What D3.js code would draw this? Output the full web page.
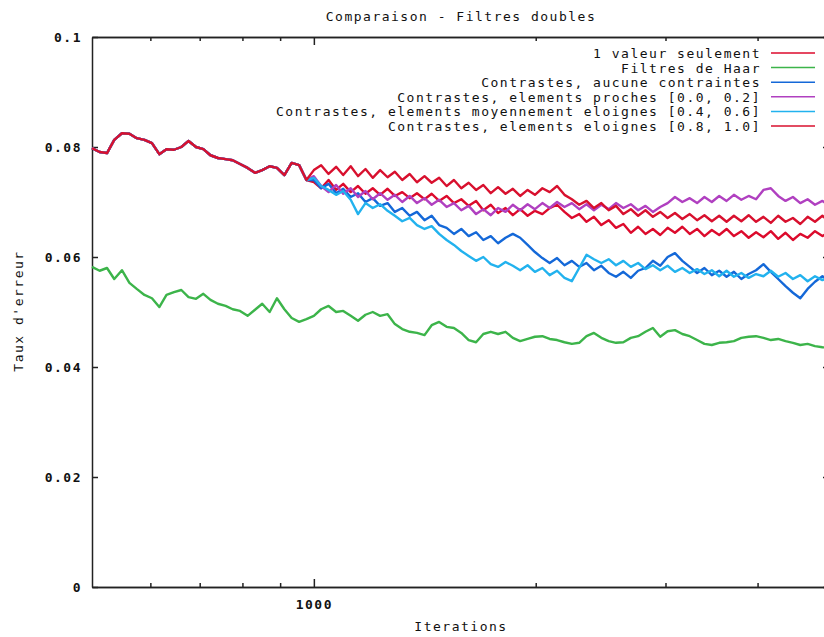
<!DOCTYPE html>
<html>
<head>
<meta charset="utf-8">
<script src="https://cdn.jsdelivr.net/npm/d3@7"></script>
<style>
body { margin: 0; background: #fff; }
text { font-family: 'DejaVu Sans Mono', monospace; font-size: 13px; letter-spacing: 1.5px; fill: #111; }
</style>
</head>
<body>
<svg></svg>
<script>
// iterations (log axis), shared by every series
var iterations = [500,512,524,536,549,562,575,589,603,617,631,646,661,676,692,708,724,741,759,776,
  794,813,832,851,871,891,912,933,955,977,1000,1023,1047,1072,1096,1122,1148,1175,1202,1230,
  1259,1288,1318,1349,1380,1413,1445,1479,1514,1549,1585,1622,1660,1698,1738,1778,1820,1862,1905,1950,
  1995,2042,2089,2138,2188,2239,2291,2344,2399,2455,2512,2570,2630,2692,2754,2818,2884,2951,3020,3090,
  3162,3236,3311,3388,3467,3548,3631,3715,3802,3890,3981,4074,4169,4266,4365,4467,4571,4677,4786,4898,5000];

// the five non-Haar runs are identical until ~1000 iterations
var premiers = [.0798,.0791,.0789,.0813,.0825,.0824,.0816,.0813,.0807,.0787,
  .0796,.0795,.0800,.0811,.0800,.0796,.0785,.0780,.0778,.0776,
  .0769,.0762,.0753,.0758,.0765,.0762,.0749,.0771,.0767,.0740];

var valeurSeule = premiers.concat([.0736,.0725,.0740,.0722,.0733,.0718,.0729,.0715,.0725,.0713,
  .0724,.0711,.0718,.0707,.0716,.0705,.0715,.0702,.0711,.0698,
  .0705,.0693,.0702,.0685,.0695,.0680,.0689,.0676,.0687,.0675,
  .0684,.0678,.0689,.0695,.0682,.0671,.0678,.0664,.0673,.0658,
  .0667,.0653,.0660,.0644,.0655,.0642,.0651,.0640,.0653,.0644,
  .0655,.0642,.0651,.0638,.0649,.0640,.0651,.0638,.0647,.0635,
  .0645,.0636,.0647,.0633,.0644,.0631,.0642,.0635,.0647,.0638,.0645]);

var haar = [.0582,.0575,.0580,.0560,.0576,.0553,.0542,.0531,.0525,.0509,
  .0531,.0536,.0540,.0527,.0524,.0533,.0522,.0515,.0511,.0505,
  .0502,.0493,.0504,.0515,.0500,.0525,.0505,.0489,.0482,.0487,
  .0493,.0505,.0511,.0500,.0502,.0493,.0484,.0495,.0500,.0493,
  .0496,.0478,.0469,.0464,.0462,.0458,.0476,.0482,.0473,.0471,
  .0462,.0449,.0445,.0460,.0464,.0460,.0464,.0453,.0447,.0451,
  .0455,.0456,.0451,.0449,.0445,.0442,.0444,.0456,.0462,.0453,
  .0447,.0444,.0445,.0453,.0456,.0464,.0471,.0455,.0465,.0467,
  .0460,.0456,.0449,.0442,.0440,.0444,.0445,.0447,.0453,.0455,
  .0456,.0453,.0449,.0451,.0447,.0444,.0440,.0442,.0438,.0436,.0435];

var aucune = premiers.concat([.0740,.0725,.0733,.0716,.0724,.0709,.0716,.0700,.0707,.0693,
  .0698,.0682,.0689,.0675,.0682,.0667,.0675,.0658,.0653,.0642,
  .0651,.0638,.0645,.0631,.0638,.0625,.0635,.0642,.0635,.0622,
  .0609,.0598,.0589,.0598,.0585,.0593,.0582,.0589,.0576,.0584,
  .0571,.0564,.0573,.0562,.0575,.0580,.0593,.0584,.0600,.0607,
  .0593,.0582,.0571,.0580,.0567,.0575,.0564,.0573,.0560,.0569,
  .0576,.0587,.0573,.0560,.0547,.0535,.0525,.0542,.0555,.0565,.0558]);

var proches = premiers.concat([.0747,.0729,.0718,.0731,.0715,.0725,.0709,.0720,.0705,.0716,
  .0704,.0713,.0700,.0711,.0698,.0707,.0695,.0704,.0691,.0698,
  .0685,.0693,.0678,.0687,.0676,.0689,.0682,.0695,.0685,.0696,
  .0687,.0698,.0689,.0700,.0691,.0698,.0687,.0696,.0685,.0695,
  .0687,.0698,.0689,.0696,.0685,.0693,.0682,.0691,.0698,.0709,
  .0700,.0707,.0698,.0709,.0700,.0711,.0702,.0713,.0704,.0711,
  .0705,.0722,.0725,.0711,.0702,.0709,.0698,.0705,.0695,.0702,.0693]);

var moyens = premiers.concat([.0744,.0729,.0722,.0713,.0720,.0704,.0678,.0698,.0689,.0696,
  .0684,.0675,.0665,.0671,.0658,.0651,.0656,.0642,.0631,.0622,
  .0611,.0602,.0593,.0600,.0587,.0582,.0591,.0584,.0576,.0585,
  .0573,.0580,.0567,.0575,.0562,.0556,.0580,.0604,.0596,.0589,
  .0596,.0585,.0593,.0582,.0589,.0578,.0585,.0576,.0584,.0573,
  .0580,.0571,.0578,.0569,.0576,.0565,.0575,.0564,.0571,.0562,
  .0569,.0565,.0575,.0564,.0571,.0560,.0567,.0556,.0565,.0558,.0564]);

var eloignes = premiers.concat([.0758,.0767,.0751,.0764,.0749,.0765,.0747,.0760,.0744,.0758,
  .0745,.0755,.0740,.0751,.0736,.0747,.0735,.0744,.0729,.0740,
  .0725,.0735,.0722,.0731,.0716,.0727,.0715,.0724,.0711,.0722,
  .0713,.0725,.0718,.0729,.0713,.0705,.0695,.0702,.0689,.0698,
  .0685,.0693,.0678,.0687,.0675,.0685,.0673,.0682,.0671,.0680,
  .0669,.0678,.0667,.0676,.0665,.0675,.0664,.0675,.0665,.0676,
  .0664,.0673,.0662,.0675,.0664,.0671,.0660,.0673,.0664,.0675,.0665]);

var names = ['1 valeur seulement', 'Filtres de Haar', 'Contrastes, aucune contraintes',
  'Contrastes, elements proches [0.0, 0.2]', 'Contrastes, elements moyennement eloignes [0.4, 0.6]',
  'Contrastes, elements eloignes [0.8, 1.0]'];
var series = [valeurSeule, haar, aucune, proches, moyens, eloignes];
var colors = ['#dc0a2c', '#3cb44a', '#1468d8', '#b040c0', '#22b2ee', '#d8102e'];

var yTicks = [0, 0.02, 0.04, 0.06, 0.08, 0.1];
var yTickLabels = ['0', '0.02', '0.04', '0.06', '0.08', '0.1'];
var xTicks = [1000];
var xMinorTicks = [600, 700, 800, 900, 2000, 3000, 4000];

var width = 824;
var height = 637;
// plot box (window.top is read-only, hence the prefixes)
var plotLeft = 92, plotRight = 829, plotTop = 37, plotBottom = 587;

var svg = d3.select('svg')
    .attr('width', width)
    .attr('height', height);

var xScale = d3.scaleLog()
                .domain([500, 5000])
                .range([plotLeft, plotRight]);

var yScale = d3.scaleLinear()
                .domain([0, 0.1])
                .range([plotBottom, plotTop]);

// y axis, ticks on the inside, mirrored on the right
svg.append('g')
    .attr('class', 'axis')
    .attr('transform', 'translate(' + plotLeft + ',0)')
    .call(d3.axisLeft(yScale).tickValues(yTicks)
      .tickFormat((d, i) => yTickLabels[i])
      .tickSizeInner(-6).tickSizeOuter(0).tickPadding(10));

svg.append('g')
    .attr('class', 'axis')
    .attr('transform', 'translate(' + plotRight + ',0)')
    .call(d3.axisRight(yScale).tickValues(yTicks).tickFormat('')
      .tickSizeInner(-6).tickSizeOuter(0));

// x axis, major + minor ticks, bottom and top
svg.append('g')
    .attr('class', 'axis')
    .attr('transform', 'translate(0,' + plotBottom + ')')
    .call(d3.axisBottom(xScale).tickValues(xTicks).tickFormat(d3.format('d'))
      .tickSizeInner(-8).tickSizeOuter(0).tickPadding(13));

svg.append('g')
    .attr('class', 'axis')
    .attr('transform', 'translate(0,' + plotBottom + ')')
    .call(d3.axisBottom(xScale).tickValues(xMinorTicks).tickFormat('')
      .tickSizeInner(-4).tickSizeOuter(0));

svg.append('g')
    .attr('class', 'axis')
    .attr('transform', 'translate(0,' + plotTop + ')')
    .call(d3.axisTop(xScale).tickValues(xTicks).tickFormat('')
      .tickSizeInner(-8).tickSizeOuter(0));

svg.append('g')
    .attr('class', 'axis')
    .attr('transform', 'translate(0,' + plotTop + ')')
    .call(d3.axisTop(xScale).tickValues(xMinorTicks).tickFormat('')
      .tickSizeInner(-4).tickSizeOuter(0));

svg.selectAll('.axis path, .axis line')
    .attr('stroke', '#222')
    .attr('stroke-width', 1.5);

svg.selectAll('.axis text')
    .style('font-weight', 'bold');

// the curves
var line = d3.line()
    .x((d, i) => xScale(iterations[i]))
    .y(d => yScale(d));

svg.append('g')
  .selectAll('path')
  .data(series)
  .enter()
  .append('path')
    .attr('d', line)
    .attr('fill', 'none')
    .attr('stroke', (d, i) => colors[i])
    .attr('stroke-width', 2.4)
    .attr('stroke-linejoin', 'round');

// legend, top right
var legend = svg.append('g')
  .selectAll('g')
  .data(names)
  .enter()
  .append('g')
    .attr('transform', (d, i) => 'translate(0,' + (53 + i * 14.6) + ')');

legend.append('text')
    .attr('x', 761)
    .attr('dy', 5)
    .style('text-anchor', 'end')
    .text(d => d);

legend.append('line')
    .attr('x1', 771)
    .attr('x2', 815)
    .attr('stroke', (d, i) => colors[i])
    .attr('stroke-width', 1.5);

svg.append('text')
    .attr('x', 461)
    .attr('y', 21)
    .style('text-anchor', 'middle')
    .text('Comparaison - Filtres doubles');

svg.append('text')
    .attr('x', 461)
    .attr('y', 631)
    .style('text-anchor', 'middle')
    .text('Iterations');

svg.append('text')
    .attr('transform', 'translate(23,311) rotate(-90)')
    .style('text-anchor', 'middle')
    .text("Taux d'erreur");
</script>
</body>
</html>
